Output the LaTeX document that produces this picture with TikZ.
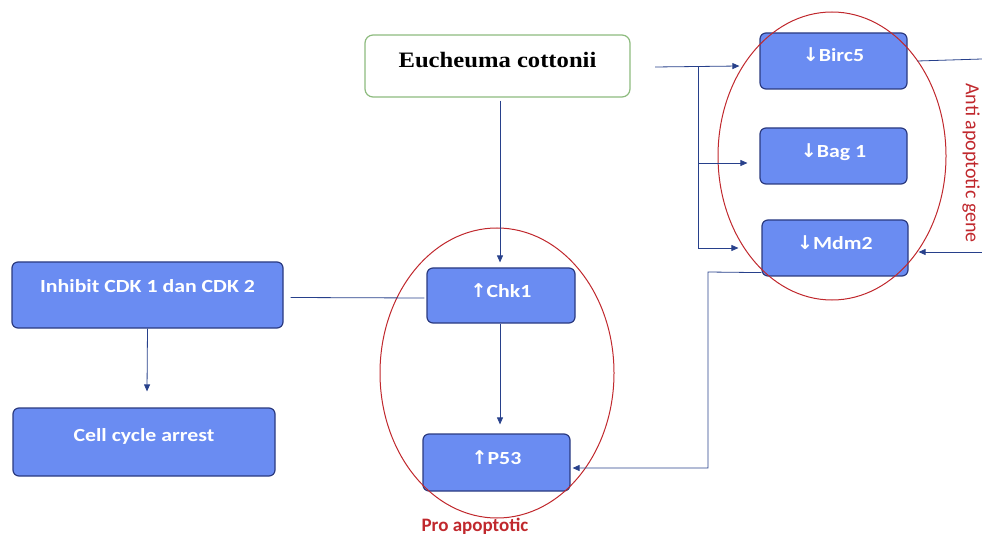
\documentclass[tikz,border=0pt]{standalone}
\usepackage{fontspec}
\setmainfont{Carlito}
\newfontfamily\boxfont[FakeStretch=1.18]{Carlito}
\newfontfamily\serifbold[FakeStretch=1.12]{Liberation Serif}
\newfontfamily\arrowfont{DejaVu Sans}
\usetikzlibrary{arrows.meta,calc}
\definecolor{boxfill}{HTML}{6A8CF2}
\definecolor{boxline}{HTML}{2B3A80}
\definecolor{connc}{HTML}{27408B}
\definecolor{ovalred}{HTML}{C0282D}
\definecolor{greenline}{HTML}{8DBB7E}
\tikzset{
  genebox/.style={draw=boxline, line width=1.2pt, fill=boxfill, rounded corners=6pt, inner sep=0pt},
  boxtxt/.style={text=white, font=\boxfont\bfseries\fontsize{18.5}{22}\selectfont},
  conn/.style={draw=connc, line width=0.8pt},
  arr/.style={conn, -{Triangle[length=7pt,width=6pt]}},
  oval/.style={draw=ovalred, line width=1pt},
}
\newcommand{\uparr}{{\arrowfont\bfseries\fontsize{19}{22}\selectfont ↑}}
\newcommand{\dnarr}{{\arrowfont\bfseries\fontsize{19}{22}\selectfont ↓}}
\begin{document}
\begin{tikzpicture}[x=1pt,y=-1pt]
\useasboundingbox (0,0) rectangle (982,537);
\clip (0,0) rectangle (982,537);

% boxes
\node[draw=greenline, line width=1.2pt, fill=white, rounded corners=8pt, minimum width=265pt, minimum height=62pt,
  label={[font=\serifbold\bfseries\fontsize{22}{26}\selectfont, yshift=6pt]center:Eucheuma cottonii}] (euch) at (497.5,66) {};

\node[genebox, minimum width=147pt, minimum height=56pt,
  label={[boxtxt, yshift=6pt]center:\dnarr Birc5}] (birc) at (833.5,61) {};
\node[genebox, minimum width=147pt, minimum height=56pt,
  label={[boxtxt, yshift=4pt]center:\dnarr Bag 1}] (bag) at (833.5,156) {};
\node[genebox, minimum width=146pt, minimum height=56pt,
  label={[boxtxt, yshift=5pt]center:\dnarr Mdm2}] (mdm) at (835,248) {};

\node[genebox, minimum width=148pt, minimum height=55pt,
  label={[boxtxt, yshift=5pt]center:\uparr Chk1}] (chk) at (501,295.5) {};
\node[genebox, minimum width=147pt, minimum height=57pt,
  label={[boxtxt, yshift=5pt]center:\uparr P53}] (p53) at (496.5,462.5) {};

\node[genebox, minimum width=271pt, minimum height=66pt,
  label={[boxtxt, yshift=9pt]center:Inhibit CDK 1 dan CDK 2}] (inh) at (147.5,295) {};
\node[genebox, minimum width=262pt, minimum height=68pt,
  label={[boxtxt, yshift=6pt]center:Cell cycle arrest}] (cell) at (144,442) {};

% ovals
\draw[oval] (832,156) ellipse [x radius=114, y radius=144];
\draw[oval] (497,373) ellipse [x radius=117, y radius=145];

% connectors
\coordinate (esrc) at (655,67);
\coordinate (br) at (698,67);
\draw[arr] (esrc) -- ($(birc.west)+(-20,5)$);
\draw[arr] (br) |- ($(bag.west)+(-12,7)$);
\draw[arr] (br) |- ($(mdm.west)+(-23,0)$);

\coordinate (rtop) at (982,59);
\draw[conn] ($(birc.east)+(10,0)$) -- (rtop);
\coordinate (rbot) at (982,252);
\draw[arr] (rbot) -- ($(mdm.east)+(10,4)$);

\draw[arr] ($(mdm.south west)+(0,-4)$) -- (708,272) -- (708,468) -- ($(p53.east)+(2,5.5)$);

\draw[arr] ($(euch.south)+(2.5,3)$) -- ($(chk.north)+(-1,-5)$);
\draw[arr] ($(chk.south)+(-1,0)$) -- ($(p53.north)+(3.5,-9)$);
\draw[conn] ($(chk.west)+(-2,2.5)$) -- ($(inh.east)+(7,2.5)$);
\draw[arr] (inh.south) -- ($(cell.north)+(3,-16)$);

% labels
\node[text=ovalred, font=\fontsize{20}{24}\selectfont, rotate=-90] (anti) at (971,163) {Anti apoptotic gene};
\node[text=ovalred, font=\bfseries\fontsize{19}{22}\selectfont, anchor=base, inner sep=0pt] (pro) at (475,531) {Pro apoptotic};
\end{tikzpicture}
\end{document}
